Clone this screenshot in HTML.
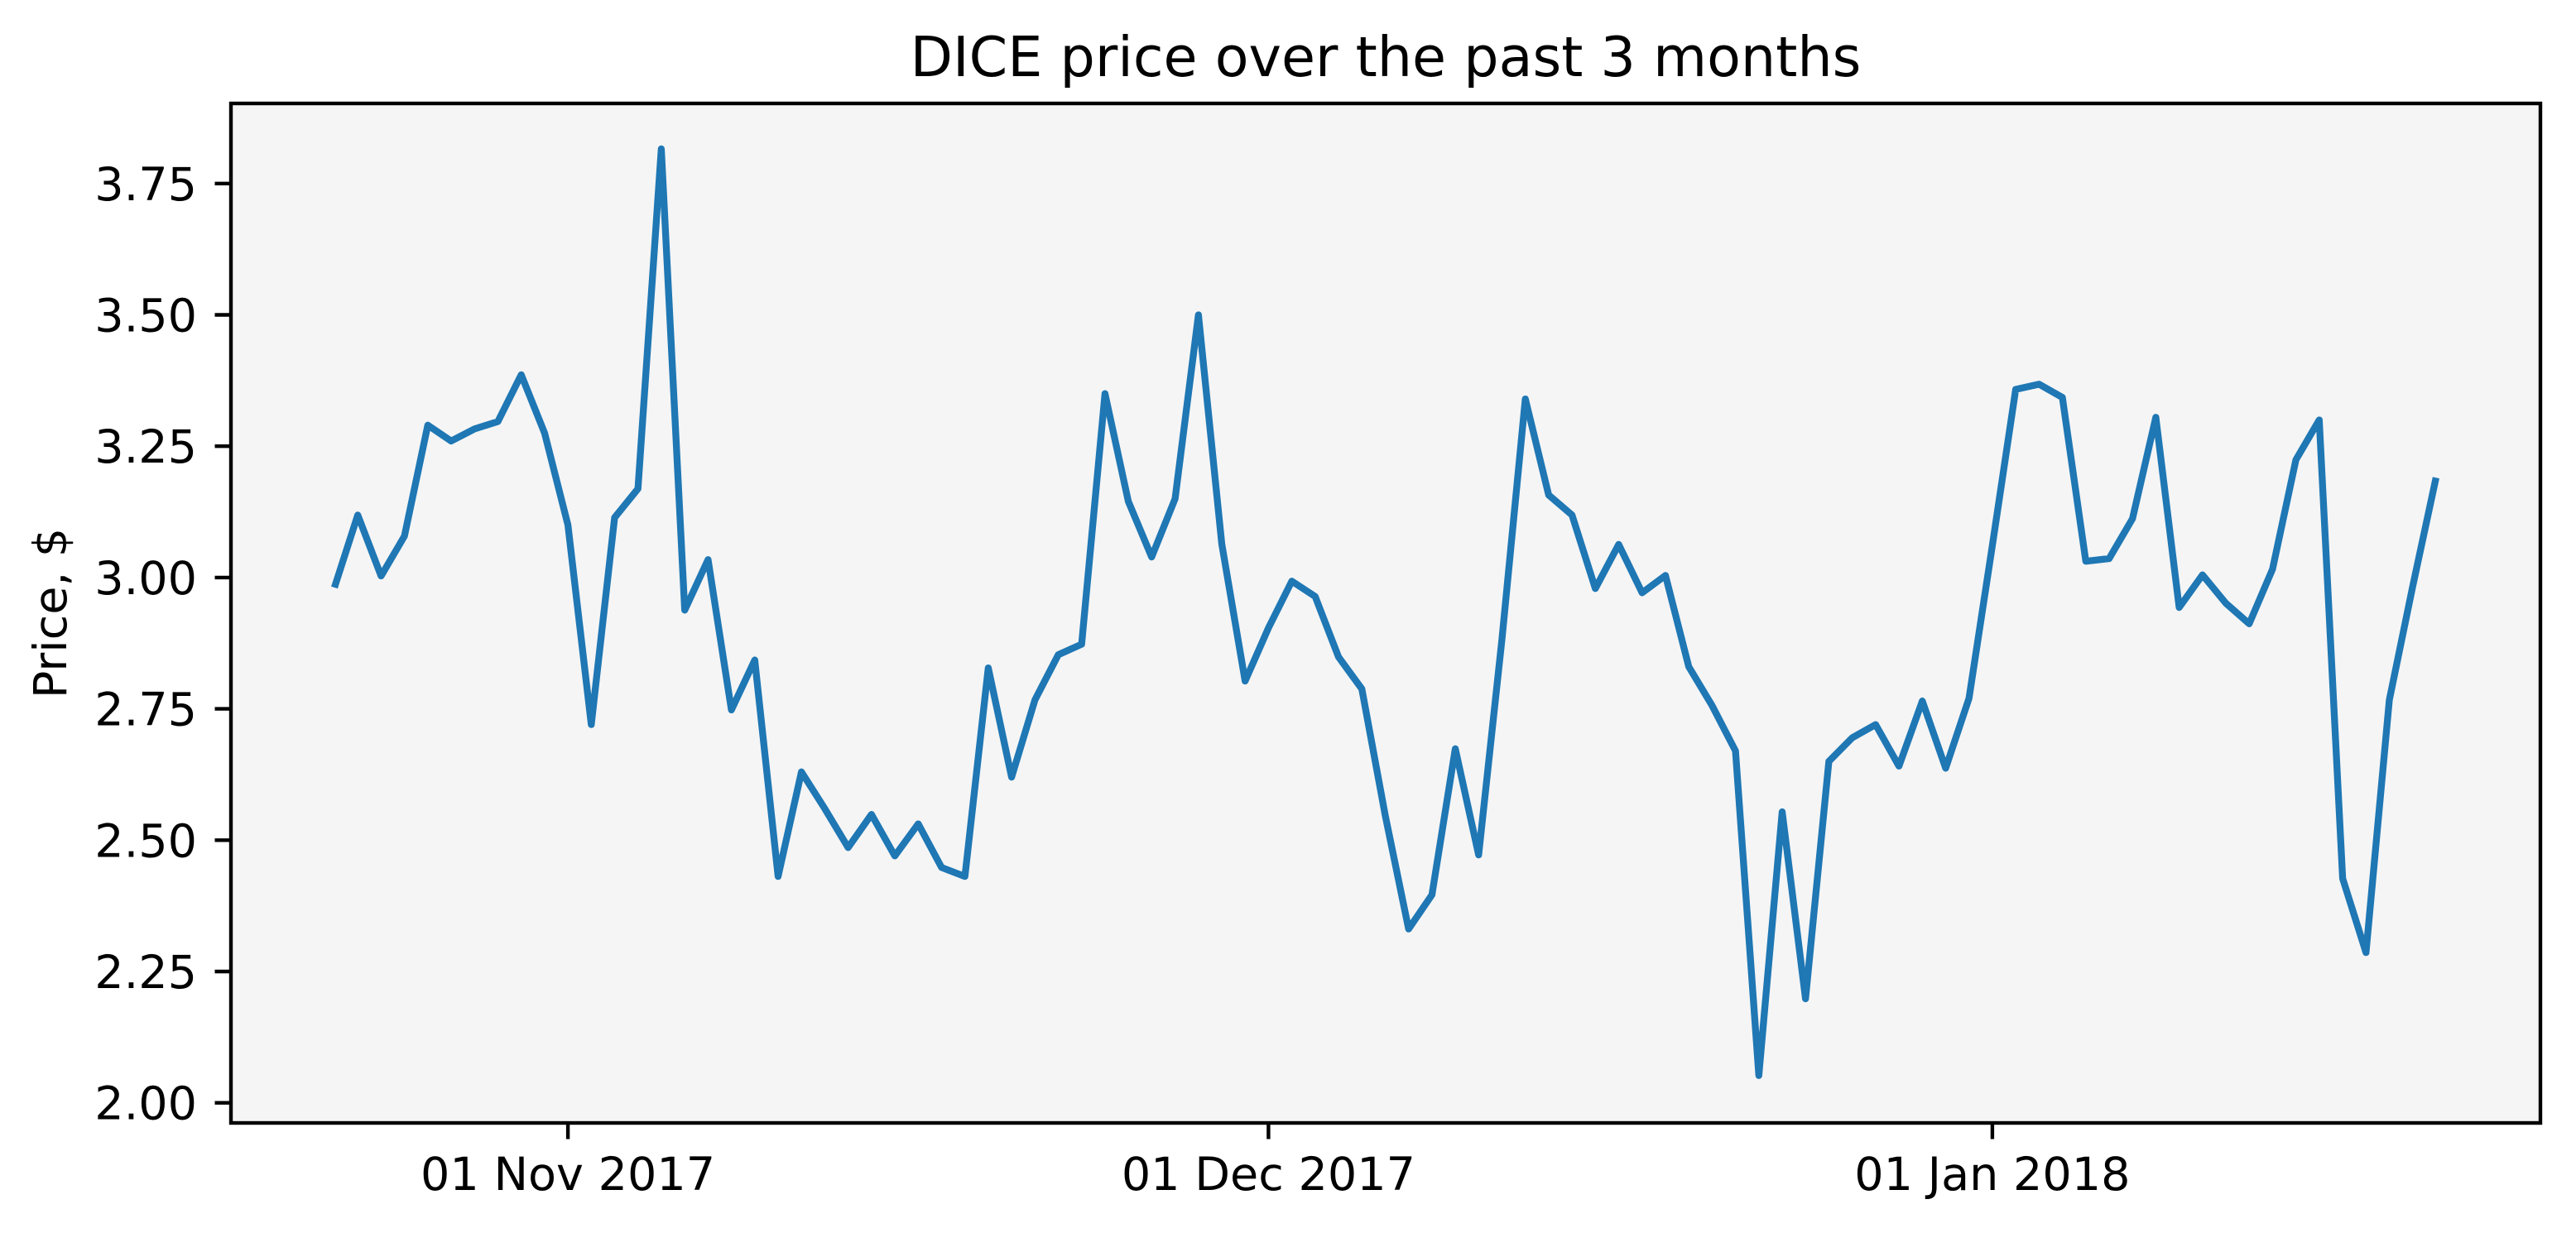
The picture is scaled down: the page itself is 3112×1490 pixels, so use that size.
<!DOCTYPE html>
<html>
<head>
<meta charset="utf-8">
<style>
  html, body { margin: 0; padding: 0; background: #ffffff; }
  svg { display: block; font-family: "DejaVu Sans", "Liberation Sans", sans-serif; }
</style>
</head>
<body>
<svg id="chart" width="3112" height="1490" viewBox="0 0 3112 1490" xmlns="http://www.w3.org/2000/svg">
  <rect x="0" y="0" width="3112" height="1490" fill="#ffffff"/>
  <rect x="279" y="125" width="2790" height="1232" fill="#f5f5f5"/>
  <g id="marks"></g>
  <g id="axes"></g>
  <rect x="279" y="125" width="2790" height="1232" fill="none" stroke="#000" stroke-width="4.4"/>
  <text x="1674" y="92" font-size="66.7" text-anchor="middle" fill="#000">DICE price over the past 3 months</text>
  <text transform="translate(80,741) rotate(-90)" font-size="55.6" text-anchor="middle" fill="#000">Price, $</text>
</svg>
<script>
// Daily closing prices, starting 22 Oct 2017 (day 0)
const prices = [
  2.981, 3.119, 3.003, 3.079, 3.290, 3.260, 3.283, 3.297, 3.386, 3.275,
  3.100, 2.720, 3.114, 3.169, 3.816, 2.938, 3.034, 2.748, 2.843, 2.431,
  2.630, 2.560, 2.486, 2.549, 2.470, 2.531, 2.448, 2.431, 2.828, 2.620,
  2.767, 2.853, 2.873, 3.350, 3.145, 3.039, 3.150, 3.500, 3.064, 2.803,
  2.904, 2.993, 2.964, 2.849, 2.788, 2.547, 2.331, 2.396, 2.674, 2.472,
  2.883, 3.340, 3.157, 3.119, 2.979, 3.063, 2.971, 3.004, 2.830, 2.756,
  2.670, 2.052, 2.554, 2.198, 2.650, 2.695, 2.720, 2.641, 2.765, 2.637,
  2.770, 3.061, 3.358, 3.368, 3.343, 3.031, 3.036, 3.112, 3.305, 2.943,
  3.005, 2.951, 2.912, 3.016, 3.224, 3.300, 2.427, 2.286, 2.767, 2.983,
  3.190
];
const yTicks = [2.00, 2.25, 2.50, 2.75, 3.00, 3.25, 3.50, 3.75];
const yTickLabels = ["2.00", "2.25", "2.50", "2.75", "3.00", "3.25", "3.50", "3.75"];
const xTickDays = [10, 40, 71];
const xTickLabels = ["01 Nov 2017", "01 Dec 2017", "01 Jan 2018"];

const NS = "http://www.w3.org/2000/svg";
function xScale(day) { return 404 + day * 28.21; }
function yScale(v) { return 1332.7 - (v - 2.0) * 634.8; }

const marks = document.getElementById('marks');
const axes = document.getElementById('axes');

const pts = prices.map((v, i) => xScale(i).toFixed(1) + "," + yScale(v).toFixed(1)).join(" ");
const line = document.createElementNS(NS, 'polyline');


line.setAttribute('points', pts);
line.setAttribute('fill', 'none');
line.setAttribute('stroke', '#1f77b4');
line.setAttribute('stroke-width', '8.3');
line.setAttribute('stroke-linejoin', 'round');
line.setAttribute('stroke-linecap', 'butt');
marks.appendChild(line);

yTicks.forEach((v, i) => {
  const y = yScale(v);
  const t = document.createElementNS(NS, 'line');
  
  
  t.setAttribute('x1', 259.5); t.setAttribute('x2', 279);
  t.setAttribute('y1', y); t.setAttribute('y2', y);
  t.setAttribute('stroke', '#000'); t.setAttribute('stroke-width', '4.4');
  axes.appendChild(t);
  const lb = document.createElementNS(NS, 'text');
  
  
  lb.setAttribute('x', 238); lb.setAttribute('y', y + 20);
  lb.setAttribute('font-size', '55.6'); lb.setAttribute('text-anchor', 'end');
  lb.setAttribute('fill', '#000');
  lb.textContent = yTickLabels[i];
  axes.appendChild(lb);
});

xTickDays.forEach((d, i) => {
  const x = xScale(d);
  const t = document.createElementNS(NS, 'line');
  
  
  t.setAttribute('x1', x); t.setAttribute('x2', x);
  t.setAttribute('y1', 1357); t.setAttribute('y2', 1376.5);
  t.setAttribute('stroke', '#000'); t.setAttribute('stroke-width', '4.4');
  axes.appendChild(t);
  const lb = document.createElementNS(NS, 'text');
  
  
  lb.setAttribute('x', x); lb.setAttribute('y', 1438);
  lb.setAttribute('font-size', '55.6'); lb.setAttribute('text-anchor', 'middle');
  lb.setAttribute('fill', '#000');
  lb.textContent = xTickLabels[i];
  axes.appendChild(lb);
});
</script>
</body>
</html>
